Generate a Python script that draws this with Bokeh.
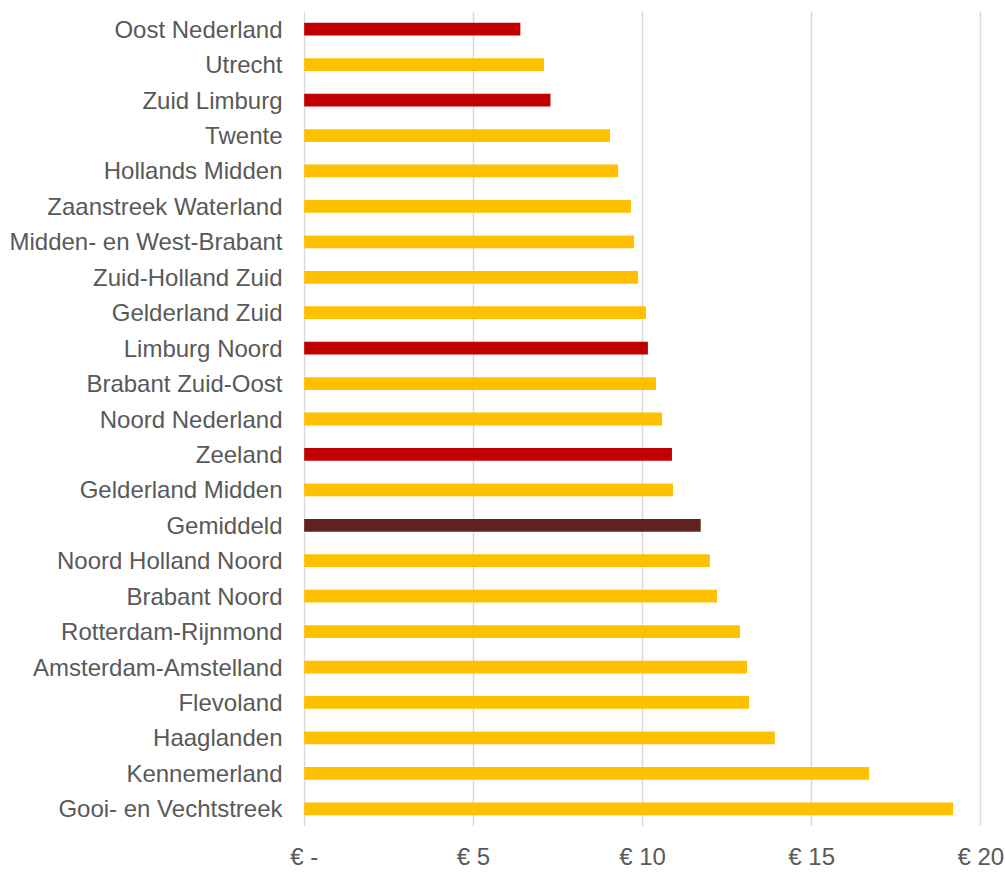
from bokeh.plotting import figure
from bokeh.models import FactorRange, FixedTicker, ColumnDataSource
from bokeh.embed import file_html
from bokeh.resources import INLINE

# Data (top to bottom as shown)
regions = [
    "Oost Nederland", "Utrecht", "Zuid Limburg", "Twente", "Hollands Midden",
    "Zaanstreek Waterland", "Midden- en West-Brabant", "Zuid-Holland Zuid",
    "Gelderland Zuid", "Limburg Noord", "Brabant Zuid-Oost", "Noord Nederland",
    "Zeeland", "Gelderland Midden", "Gemiddeld", "Noord Holland Noord",
    "Brabant Noord", "Rotterdam-Rijnmond", "Amsterdam-Amstelland", "Flevoland",
    "Haaglanden", "Kennemerland", "Gooi- en Vechtstreek",
]
values = [
    6.39, 7.09, 7.28, 9.04, 9.28,
    9.66, 9.75, 9.87,
    10.10, 10.16, 10.40, 10.58,
    10.87, 10.90, 11.72, 11.99,
    12.20, 12.88, 13.09, 13.15,
    13.91, 16.70, 19.18,
]
tick_values = [0, 5, 10, 15, 20]
tick_labels = ["€ -", "€ 5", "€ 10", "€ 15", "€ 20"]

# Styling (kept separate from data)
red_regions = {"Oost Nederland", "Zuid Limburg", "Limburg Noord", "Zeeland"}
avg_regions = {"Gemiddeld"}
colors = []
for r in regions:
    if r in avg_regions:
        colors.append("#60221F")
    elif r in red_regions:
        colors.append("#C00000")
    else:
        colors.append("#FFC000")

source = ColumnDataSource(dict(region=regions, value=values, color=colors))

p = figure(
    width=1005, height=872,
    y_range=FactorRange(*reversed(regions)),
    x_range=(-0.02, 20.02),
    output_backend="svg", toolbar_location=None,
    min_border_left=303, min_border_right=24,
    min_border_top=11, min_border_bottom=41,
)
p.hbar(y="region", right="value", height=0.36, left=0, color="color",
       source=source, line_color=None)

p.outline_line_color = None
p.ygrid.grid_line_color = None
p.xgrid.grid_line_color = "#D9D9D9"
p.xgrid.grid_line_width = 1.5
p.xaxis.ticker = FixedTicker(ticks=tick_values)
p.xaxis.major_label_overrides = {v: l for v, l in zip(tick_values, tick_labels)}

for ax in (p.xaxis, p.yaxis):
    ax.axis_line_color = None
    ax.major_tick_line_color = None
    ax.minor_tick_line_color = None
    ax.major_tick_out = 0
    ax.major_tick_in = 0
    ax.major_label_text_font = "Liberation Sans"
    ax.major_label_text_font_size = "24px"
    ax.major_label_text_color = "#595959"

p.xaxis.major_label_standoff = 16
p.yaxis.major_label_standoff = 21

open("out.html", "w").write(file_html(p, INLINE))
